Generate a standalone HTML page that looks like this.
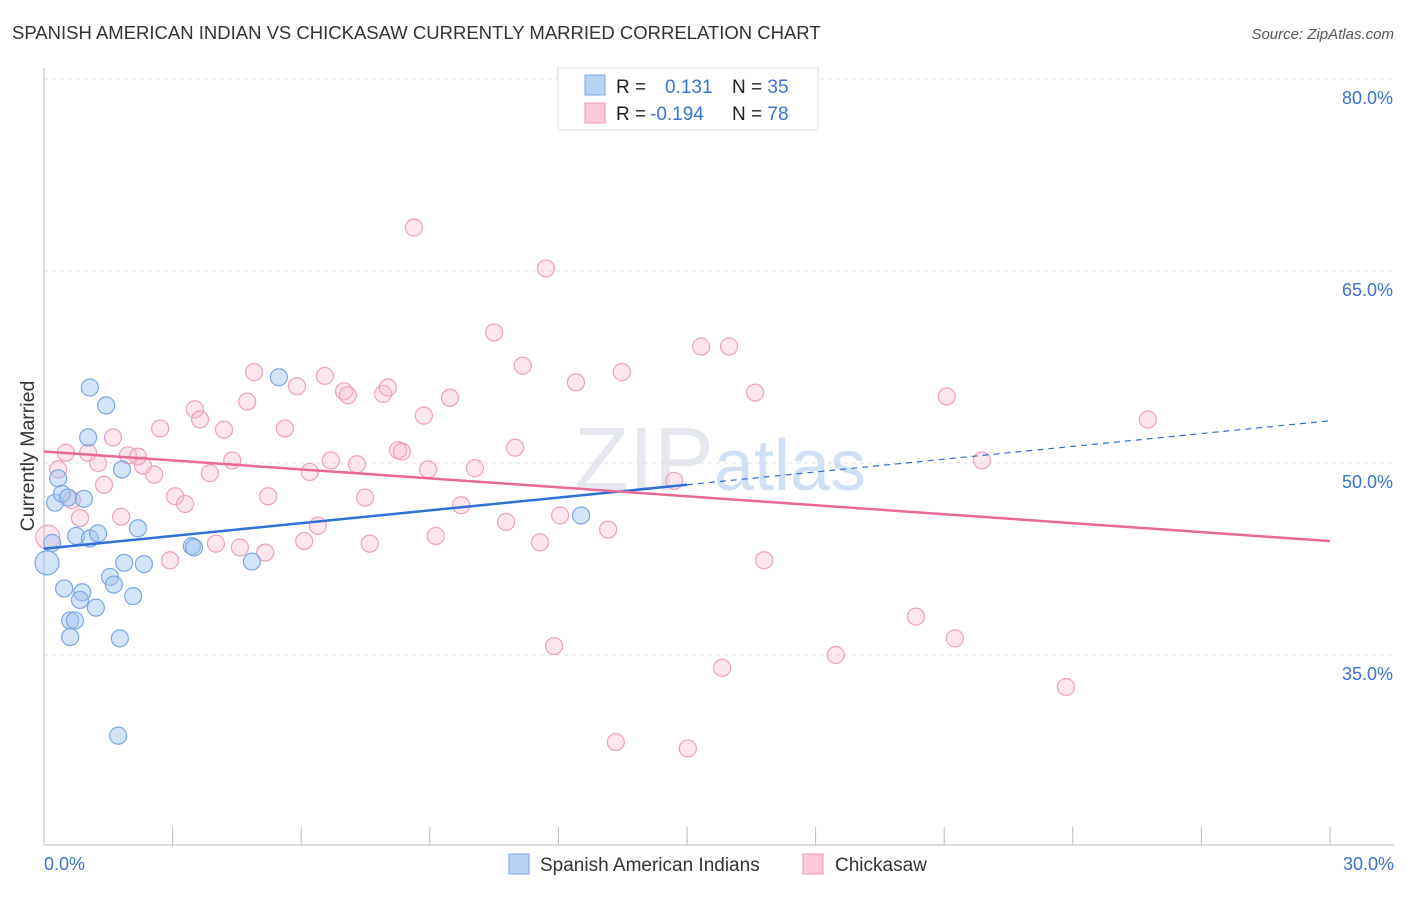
<!DOCTYPE html>
<html><head><meta charset="utf-8"><style>
body{margin:0;background:#fff;font-family:"Liberation Sans",sans-serif;}
svg text{font-family:"Liberation Sans",sans-serif;}
</style></head><body>
<svg id="chart" width="1406" height="892" xmlns="http://www.w3.org/2000/svg">
<text x="12" y="39" font-size="18.5" fill="#333">SPANISH AMERICAN INDIAN VS CHICKASAW CURRENTLY MARRIED CORRELATION CHART</text>
<text x="1394" y="39" font-size="15" fill="#555" font-style="italic" text-anchor="end">Source: ZipAtlas.com</text>
<text x="720" y="490" font-size="90" fill="#e4e8ee" text-anchor="middle" font-family="Liberation Serif">ZIP<tspan fill="#d0e0f4" font-family="Liberation Sans" font-size="72">atlas</tspan></text>
<text transform="translate(34,456) rotate(-90)" font-size="19.5" fill="#333" text-anchor="middle">Currently Married</text>
<g id="grid"></g><g id="axes"></g><g id="marks"></g>
<g>
<rect x="558" y="68" width="260" height="62" fill="#fff" stroke="#ddd"/>
<rect x="585" y="75" width="20" height="20" fill="#b8d2f4" stroke="#7aa8e6"/>
<rect x="585" y="103" width="20" height="20" fill="#fbcbd9" stroke="#ee9ab5"/>
<text x="616" y="93" font-size="19" fill="#222">R = <tspan x="665" fill="#3a72d0">0.131</tspan><tspan x="732" fill="#222">N = </tspan><tspan fill="#3a72d0">35</tspan></text>
<text x="616" y="120" font-size="19" fill="#222">R = <tspan x="650" fill="#3a72d0">-0.194</tspan><tspan x="732" fill="#222">N = </tspan><tspan fill="#3a72d0">78</tspan></text>
</g>
<g>
<rect x="509" y="854" width="20" height="20" fill="#b8d2f4" stroke="#7aa8e6"/>
<text x="540" y="871" font-size="19" fill="#333">Spanish American Indians</text>
<rect x="803" y="854" width="20" height="20" fill="#fbcbd9" stroke="#ee9ab5"/>
<text x="835" y="871" font-size="19" fill="#333">Chickasaw</text>
</g>
</svg>
<script>
const blueX=[0.07,0.19,0.26,0.33,0.42,0.56,0.93,0.75,1.07,1.26,0.47,0.89,0.84,0.61,0.72,1.21,0.61,1.07,1.45,1.03,1.82,2.19,1.87,2.33,1.54,1.63,2.08,1.77,1.73,3.45,3.50,4.85,5.48,12.53];
const blueY=[42.2,43.75,46.9,48.8,47.6,47.3,47.2,44.3,44.1,44.5,40.2,39.9,39.3,37.7,37.7,38.7,36.4,55.9,54.5,52.0,49.5,44.9,42.2,42.1,41.1,40.5,39.6,36.3,28.7,43.5,43.4,42.3,56.7,45.9];
const pinkX=[0.09,0.33,0.51,0.65,0.84,1.03,1.26,1.40,1.61,1.80,1.96,2.19,2.31,2.57,2.71,2.94,3.06,3.29,3.52,3.64,3.87,4.01,4.20,4.39,4.57,4.74,4.90,5.16,5.23,5.62,5.90,6.07,6.20,6.39,6.55,6.69,7.00,7.09,7.30,7.49,7.60,7.91,8.02,8.26,8.35,8.63,8.86,8.96,9.14,9.47,9.73,10.05,10.50,10.78,10.99,11.17,11.57,11.71,11.90,12.04,12.41,13.16,13.34,13.48,14.70,15.02,15.33,15.82,15.98,16.59,16.80,18.47,20.34,21.06,21.25,21.88,23.84,25.75];
const pinkY=[44.2,49.5,50.8,47.1,45.7,50.8,50.0,48.3,52.0,45.8,50.6,50.5,49.8,49.1,52.7,42.4,47.4,46.8,54.2,53.4,49.2,43.7,52.6,50.2,43.4,54.8,57.1,43.0,47.4,52.7,56.0,43.9,49.3,45.1,56.8,50.2,55.6,55.3,49.9,47.3,43.7,55.4,55.9,51.0,50.9,68.4,53.7,49.5,44.3,55.1,46.7,49.6,60.2,45.4,51.2,57.6,43.8,65.2,35.7,45.9,56.3,44.8,28.2,57.1,48.6,27.7,59.1,34.0,59.1,55.5,42.4,35.0,38.0,55.2,36.3,50.2,32.5,53.4];
const blueTrend=[43.3,53.3];
const pinkTrend=[50.9,43.9];
const yTicks=[80,65,50,35];
const yTickLabels=["80.0%","65.0%","50.0%","35.0%"];
const xTicks=[0,3,6,9,12,15,18,21,24,27,30];

const NS="http://www.w3.org/2000/svg";
const X=v=>44+v*(1286/30);
const Y=v=>79+(80-v)*12.8;
function mk(tag,attrs,parent){const e=document.createElementNS(NS,tag);for(const k in attrs)e.setAttribute(k,attrs[k]);document.getElementById(parent).appendChild(e);return e;}
yTicks.forEach((t,i)=>{
 const g=mk('line',{x1:44,x2:1394,y1:Y(t),y2:Y(t),stroke:'#ddd','stroke-dasharray':'4,4'},'grid');
 
 
 const l=mk('text',{x:1393,y:Y(t)+25,'font-size':18,fill:'#3a72d0','text-anchor':'end'},'axes');
 l.textContent=yTickLabels[i];
 
 
});
let a=mk('line',{x1:44,x2:44,y1:68,y2:845,stroke:'#bbb'},'axes');


a=mk('line',{x1:44,x2:1394,y1:845,y2:845,stroke:'#bbb'},'axes');


xTicks.forEach(t=>{
 const k=mk('line',{x1:X(t),x2:X(t),y1:827,y2:845,stroke:'#bbb'},'axes');
 
 
});
let tl=mk('text',{x:44,y:870,'font-size':18,fill:'#3a72d0'},'axes');tl.textContent='0.0%';


tl=mk('text',{x:1394,y:870,'font-size':18,fill:'#3a72d0','text-anchor':'end'},'axes');tl.textContent='30.0%';



pinkX.forEach((x,i)=>{
 const c=mk('circle',{cx:X(x),cy:Y(pinkY[i]),r:i==0?12:8.5,fill:'rgba(248,182,204,0.35)',stroke:'#f0a0bc','stroke-width':1.2},'marks');
 
 
});
blueX.forEach((x,i)=>{
 const c=mk('circle',{cx:X(x),cy:Y(blueY[i]),r:i==0?12:8.5,fill:'rgba(160,196,240,0.45)',stroke:'#7aa8e6','stroke-width':1.2},'marks');
 
 
});
const bAt=v=>blueTrend[0]+(blueTrend[1]-blueTrend[0])*v/30;
let t=mk('line',{x1:X(0),y1:Y(bAt(0)),x2:X(15),y2:Y(bAt(15)),stroke:'#2f6fd6','stroke-width':2.5},'marks');


t=mk('line',{x1:X(15),y1:Y(bAt(15)),x2:X(30),y2:Y(bAt(30)),stroke:'#2f6fd6','stroke-width':1.2,'stroke-dasharray':'6,5'},'marks');


t=mk('line',{x1:X(0),y1:Y(pinkTrend[0]),x2:X(30),y2:Y(pinkTrend[1]),stroke:'#e86a94','stroke-width':2.5},'marks');


</script>
</body></html>
